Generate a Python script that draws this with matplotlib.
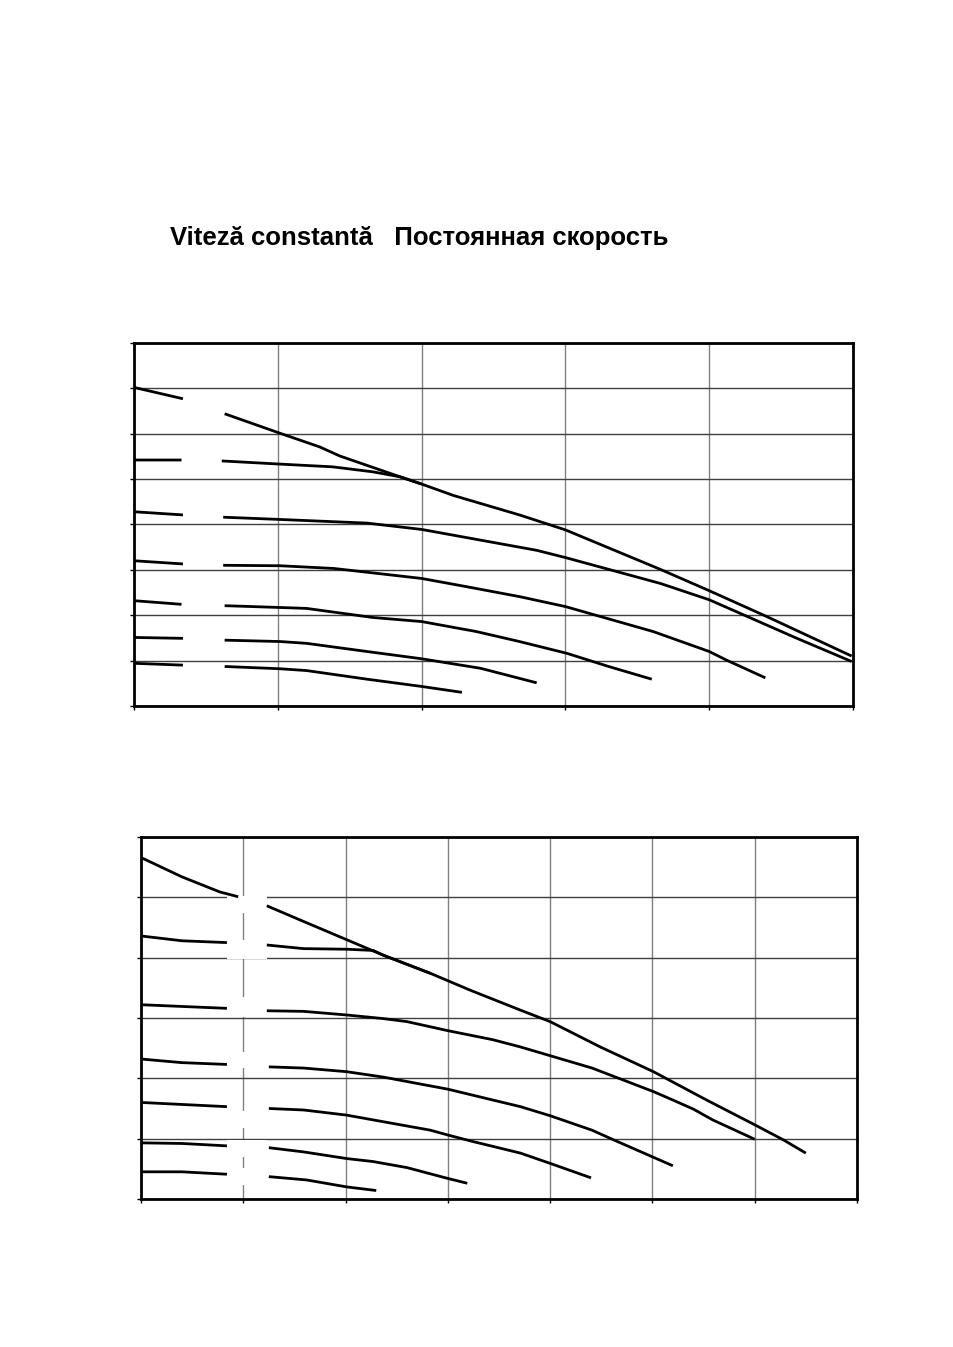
import numpy as np
import matplotlib
matplotlib.use("Agg")
import matplotlib.pyplot as plt
from matplotlib.patches import Rectangle

nan = np.nan

title = "Viteză constantă   Постоянная скорость"

# upper chart, 7 curves (nan = label gap)
u1_x = [0, 0.34, nan, 0.63, 1.015, 1.29, 1.43, 1.85, 2.0, 2.22, 2.68, 3.0, 3.66, 4.0, 4.40, 4.99]
u1_y = [7.02, 6.77, nan, 6.44, 6.01, 5.71, 5.51, 5.05, 4.89, 4.64, 4.21, 3.88, 3.01, 2.54, 1.97, 1.10]
u2_x = [0, 0.33, nan, 0.61, 1.015, 1.38, 1.66, 1.85, 2.0]
u2_y = [5.42, 5.42, nan, 5.40, 5.33, 5.27, 5.16, 5.05, 4.89]
u3_x = [0, 0.34, nan, 0.62, 1.015, 1.62, 2.0, 2.80, 3.0, 3.66, 4.0, 4.61, 4.99]
u3_y = [4.28, 4.21, nan, 4.16, 4.11, 4.03, 3.89, 3.43, 3.27, 2.70, 2.34, 1.49, 0.98]
u4_x = [0, 0.34, nan, 0.62, 1.015, 1.39, 2.0, 2.31, 2.68, 3.0, 3.61, 4.0, 4.12, 4.39]
u4_y = [3.20, 3.13, nan, 3.10, 3.09, 3.03, 2.81, 2.63, 2.41, 2.19, 1.64, 1.20, 1.01, 0.62]
u5_x = [0, 0.33, nan, 0.63, 1.015, 1.20, 1.66, 2.0, 2.38, 2.68, 3.01, 3.30, 3.60]
u5_y = [2.32, 2.24, nan, 2.21, 2.17, 2.15, 1.95, 1.86, 1.64, 1.42, 1.16, 0.87, 0.59]
u6_x = [0, 0.34, nan, 0.63, 1.015, 1.20, 1.62, 2.0, 2.41, 2.80]
u6_y = [1.51, 1.49, nan, 1.45, 1.42, 1.38, 1.20, 1.04, 0.83, 0.51]
u7_x = [0, 0.34, nan, 0.63, 1.015, 1.20, 1.62, 2.0, 2.28]
u7_y = [0.94, 0.90, nan, 0.87, 0.82, 0.78, 0.59, 0.43, 0.30]

# lower chart, 7 curves
l1_x = [0, 0.40, 0.77, 0.95, nan, 1.23, 1.59, 1.98, 2.37, 2.83, 3.22, 3.71, 4.0, 4.49, 5.01, 5.53, 6.0, 6.28, 6.50]
l1_y = [5.66, 5.34, 5.09, 5.01, nan, 4.86, 4.60, 4.32, 4.04, 3.74, 3.46, 3.13, 2.94, 2.52, 2.11, 1.64, 1.23, 0.98, 0.76]
l2_x = [0, 0.40, 0.84, nan, 1.23, 1.59, 2.01, 2.27, 2.37, 2.83]
l2_y = [4.36, 4.28, 4.25, nan, 4.21, 4.15, 4.14, 4.12, 4.04, 3.74]
l3_x = [0, 0.84, nan, 1.23, 1.59, 2.01, 2.37, 2.60, 3.0, 3.44, 3.71, 4.41, 5.01, 5.20, 5.40, 5.59, 6.0]
l3_y = [3.22, 3.16, nan, 3.12, 3.11, 3.05, 2.99, 2.94, 2.79, 2.64, 2.52, 2.17, 1.78, 1.64, 1.49, 1.31, 0.99]
l4_x = [0, 0.40, 0.84, nan, 1.25, 1.59, 2.01, 2.37, 3.0, 3.44, 3.71, 4.0, 4.41, 4.62, 5.20]
l4_y = [2.32, 2.26, 2.23, nan, 2.19, 2.17, 2.11, 2.02, 1.82, 1.64, 1.53, 1.38, 1.14, 0.98, 0.55]
l5_x = [0, 0.84, nan, 1.25, 1.59, 2.01, 2.37, 2.83, 3.0, 3.25, 3.71, 4.0, 4.40]
l5_y = [1.60, 1.53, nan, 1.50, 1.475, 1.39, 1.28, 1.14, 1.06, 0.95, 0.76, 0.59, 0.35]
l6_x = [0, 0.40, 0.84, nan, 1.25, 1.59, 2.01, 2.27, 2.60, 3.0, 3.19]
l6_y = [0.93, 0.92, 0.88, nan, 0.85, 0.78, 0.67, 0.62, 0.52, 0.34, 0.26]
l7_x = [0, 0.40, 0.84, nan, 1.25, 1.62, 2.01, 2.30]
l7_y = [0.45, 0.45, 0.41, nan, 0.37, 0.315, 0.20, 0.14]

upper = [(u1_x, u1_y), (u2_x, u2_y), (u3_x, u3_y), (u4_x, u4_y),
         (u5_x, u5_y), (u6_x, u6_y), (u7_x, u7_y)]
lower = [(l1_x, l1_y), (l2_x, l2_y), (l3_x, l3_y), (l4_x, l4_y),
         (l5_x, l5_y), (l6_x, l6_y), (l7_x, l7_y)]

plt.rcParams['font.family'] = ['Liberation Sans', 'DejaVu Sans']

fig = plt.figure(figsize=(9.54, 13.47), dpi=100)
fig.text(0.178, 0.8235, title, fontsize=18.5, fontweight='bold', va='center', ha='left')


def setup(ax, nx, ny):
    ax.set_xlim(0, nx)
    ax.set_ylim(0, ny)
    ax.set_xticks(range(nx + 1))
    ax.set_yticks(range(ny + 1))
    ax.set_xticklabels([])
    ax.set_yticklabels([])
    ax.set_axisbelow(True)
    ax.xaxis.grid(True, color='#808080', lw=1)
    ax.yaxis.grid(True, color='#404040', lw=1)
    ax.tick_params(direction='out', length=3, width=1, color='black')
    for s in ax.spines.values():
        s.set_linewidth(2)
        s.set_color('black')


ax1 = fig.add_axes([0.1405, 0.4759, 0.7537, 0.2695])
setup(ax1, 5, 8)
for x, y in upper:
    ax1.plot(x, y, color='black', lw=2, solid_capstyle='butt')

ax2 = fig.add_axes([0.1478, 0.1099, 0.7505, 0.2687])
setup(ax2, 7, 6)
# white label boxes that cut the grid
for y0, y1 in [(4.74, 5.02), (3.98, 4.29), (3.02, 3.35), (2.17, 2.44),
               (1.17, 1.45), (0.70, 0.98), (0.23, 0.51)]:
    ax2.add_patch(Rectangle((0.84, y0), 0.39, y1 - y0, facecolor='white',
                            edgecolor='none', zorder=1))
for x, y in lower:
    ax2.plot(x, y, color='black', lw=2, solid_capstyle='butt', zorder=2)

fig.savefig('out.png', dpi=100)
